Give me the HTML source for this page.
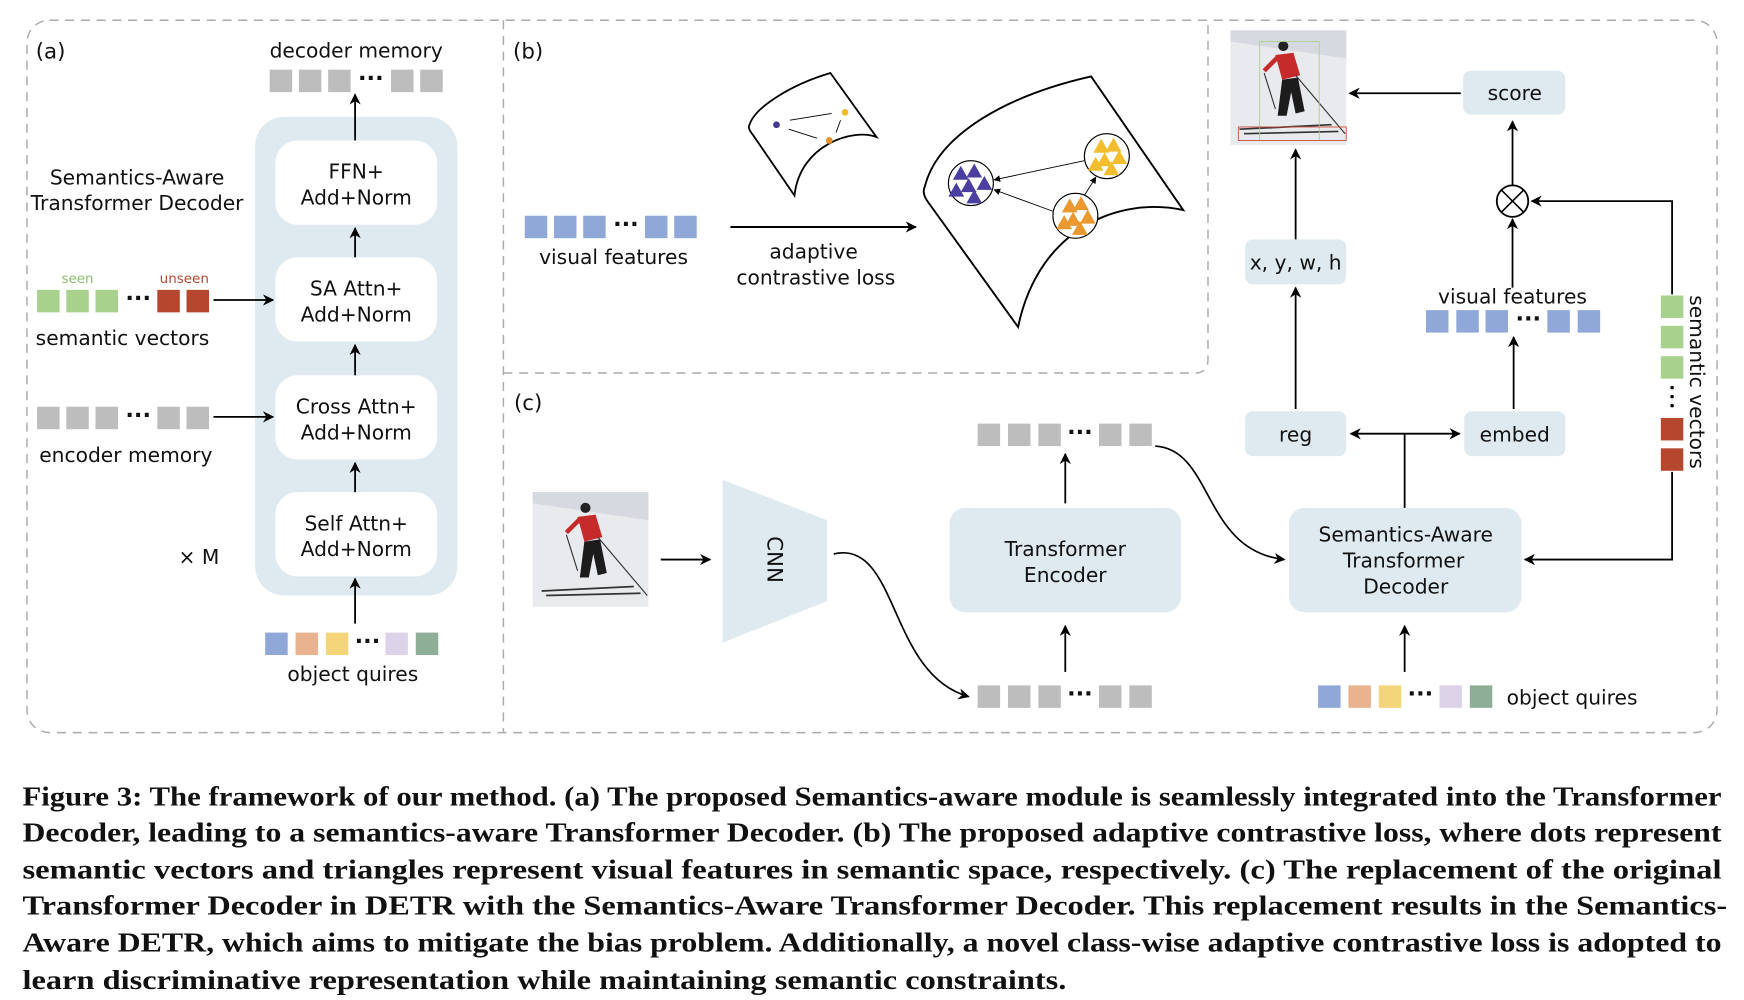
<!DOCTYPE html>
<html><head><meta charset="utf-8"><style>
html,body{margin:0;padding:0;background:#fff;}
svg{display:block;}
.t{font-family:"DejaVu Sans","Liberation Sans",sans-serif;font-size:18px;fill:#111;text-anchor:middle;}
.c{font-family:"Liberation Serif",serif;font-weight:bold;font-size:24.5px;fill:#111;}
</style></head><body>
<svg width="1744" height="1000" viewBox="0 0 1552 890" preserveAspectRatio="none" xmlns="http://www.w3.org/2000/svg">
<defs>
<marker id="a" markerWidth="10" markerHeight="10" refX="9" refY="5" orient="auto" markerUnits="userSpaceOnUse"><path d="M0,0 L10,5 L0,10 L3,5 Z" fill="#000"/></marker>
<marker id="as" markerWidth="10" markerHeight="10" refX="1" refY="5" orient="auto" markerUnits="userSpaceOnUse"><path d="M10,0 L0,5 L10,10 L7,5 Z" fill="#000"/></marker>
<marker id="sm" markerWidth="6" markerHeight="6" refX="5" refY="3" orient="auto" markerUnits="userSpaceOnUse"><path d="M0,0 L6,3 L0,6Z" fill="#000"/></marker>
<g id="tri"><path d="M0,-7.5 L7,5 L-7,5Z"/></g>
<g id="sk">
<rect x="0" y="0" width="103" height="102" fill="#e9eaee"/>
<path d="M0,0 L103,0 L103,25 L0,10Z" fill="#d6d9e0"/>
<circle cx="47" cy="14" r="4.5" fill="#222"/>
<path d="M40,22 L56,20 L62,40 L46,44 Z" fill="#c62a2a"/>
<path d="M42,24 L30,36" stroke="#c62a2a" stroke-width="4"/>
<path d="M46,44 L60,42 L66,72 L58,74 L54,55 L50,76 L42,76 Z" fill="#1c1c1c"/>
<path d="M30,38 L40,70" stroke="#333" stroke-width="1"/>
<path d="M58,40 L102,92" stroke="#333" stroke-width="1"/>
<path d="M8,88 L90,84 M12,92 L96,90" stroke="#333" stroke-width="1.5"/>
</g>
</defs>

<rect x="24" y="18" width="1504" height="634" rx="20" fill="none" stroke="#aaa" stroke-width="1.3" stroke-dasharray="8,6"/>
<line x1="448" y1="18" x2="448" y2="652" stroke="#aaa" stroke-width="1.3" stroke-dasharray="8,6"/>
<path d="M448,332 L1063,332 Q1075,332 1075,320 L1075,18" fill="none" stroke="#aaa" stroke-width="1.3" stroke-dasharray="8,6"/>

<!-- (a) -->
<text x="45" y="52" class="t" style="font-size:19px">(a)</text>
<text x="317" y="51" class="t">decoder memory</text>
<g fill="#bdbdbd"><rect x="240" y="62" width="20" height="20"/><rect x="266" y="62" width="20" height="20"/><rect x="292" y="62" width="20" height="20"/><rect x="348" y="62" width="20" height="20"/><rect x="374" y="62" width="20" height="20"/></g>
<text x="330" y="76" class="t" style="font-size:20px;font-weight:bold">···</text>
<rect x="227" y="104" width="180" height="426" rx="26" fill="#deeaf0"/>
<g fill="#fff"><rect x="245" y="125" width="144" height="75" rx="20"/><rect x="245" y="229" width="144" height="75" rx="20"/><rect x="245" y="334" width="144" height="75" rx="20"/><rect x="245" y="438" width="144" height="75" rx="20"/></g>
<text class="t" x="317" y="159">FFN+</text><text class="t" x="317" y="182">Add+Norm</text>
<text class="t" x="317" y="263">SA Attn+</text><text class="t" x="317" y="286">Add+Norm</text>
<text class="t" x="317" y="368">Cross Attn+</text><text class="t" x="317" y="391">Add+Norm</text>
<text class="t" x="317" y="472">Self Attn+</text><text class="t" x="317" y="495">Add+Norm</text>
<g stroke="#000" stroke-width="1.6" marker-end="url(#a)">
<line x1="316" y1="125" x2="316" y2="84"/><line x1="316" y1="229" x2="316" y2="203"/><line x1="316" y1="334" x2="316" y2="307"/><line x1="316" y1="438" x2="316" y2="412"/><line x1="316" y1="555" x2="316" y2="515"/>
<line x1="190" y1="267" x2="243" y2="267"/><line x1="190" y1="371" x2="243" y2="371"/>
</g>
<text class="t" x="122" y="164">Semantics-Aware</text><text class="t" x="122" y="187">Transformer Decoder</text>
<text x="69" y="252" class="t" style="font-size:12px;fill:#8cc06a">seen</text>
<text x="164" y="252" class="t" style="font-size:12px;fill:#b5472f">unseen</text>
<g fill="#a9d18e"><rect x="33" y="258" width="20" height="20"/><rect x="59" y="258" width="20" height="20"/><rect x="85" y="258" width="20" height="20"/></g>
<g fill="#b5472f"><rect x="140" y="258" width="20" height="20"/><rect x="166" y="258" width="20" height="20"/></g>
<text x="123" y="272" class="t" style="font-size:20px;font-weight:bold">···</text>
<text class="t" x="109" y="307">semantic vectors</text>
<g fill="#bdbdbd"><rect x="33" y="362" width="20" height="20"/><rect x="59" y="362" width="20" height="20"/><rect x="85" y="362" width="20" height="20"/><rect x="140" y="362" width="20" height="20"/><rect x="166" y="362" width="20" height="20"/></g>
<text x="123" y="376" class="t" style="font-size:20px;font-weight:bold">···</text>
<text class="t" x="112" y="411">encoder memory</text>
<text class="t" x="177" y="502">× M</text>
<rect x="236" y="563" width="20" height="20" fill="#8fa8d8"/><rect x="263" y="563" width="20" height="20" fill="#e8b38e"/><rect x="290" y="563" width="20" height="20" fill="#f5d57a"/><rect x="343" y="563" width="20" height="20" fill="#dcd3e8"/><rect x="370" y="563" width="20" height="20" fill="#8fae98"/>
<text x="327" y="577" class="t" style="font-size:20px;font-weight:bold">···</text>
<text class="t" x="314" y="606">object quires</text>

<!-- (b) -->
<text x="470" y="52" class="t" style="font-size:19px">(b)</text>
<g fill="#8fa8d8"><rect x="467" y="192" width="20" height="20"/><rect x="493" y="192" width="20" height="20"/><rect x="519" y="192" width="20" height="20"/><rect x="574" y="192" width="20" height="20"/><rect x="600" y="192" width="20" height="20"/></g>
<text x="557" y="206" class="t" style="font-size:20px;font-weight:bold">···</text>
<text class="t" x="546" y="235">visual features</text>
<line x1="650" y1="202" x2="815" y2="202" stroke="#000" stroke-width="1.8" marker-end="url(#a)"/>
<text class="t" x="724" y="230">adaptive</text><text class="t" x="726" y="253">contrastive loss</text>
<path d="M667,111 C672,95 705,75 739,65 L780,122 C760,114 712,128 707,174 L670,120 Q665,114 667,111Z" fill="none" stroke="#000" stroke-width="1.6"/>
<circle cx="691" cy="111" r="3" fill="#3f3a94"/><circle cx="752" cy="100" r="3" fill="#f0b92a"/><circle cx="738" cy="125" r="3" fill="#e8902a"/>
<g stroke="#000" stroke-width="0.8"><line x1="703" y1="107" x2="740" y2="101"/><line x1="702" y1="115" x2="727" y2="123"/><line x1="748" y1="107" x2="744" y2="118"/></g>
<path d="M823,166 C835,118 900,84 971,68 L1053,187 C1000,175 925,200 906,291 L826,180 Q820,172 823,166Z" fill="none" stroke="#000" stroke-width="1.7"/>
<circle cx="864" cy="163" r="20" fill="#fff" stroke="#000"/>
<circle cx="985" cy="139" r="20" fill="#fff" stroke="#000"/>
<circle cx="957" cy="192" r="20" fill="#fff" stroke="#000"/>
<g fill="#4a3fa0"><use href="#tri" x="855" y="155"/><use href="#tri" x="867" y="153"/><use href="#tri" x="876" y="164"/><use href="#tri" x="862" y="166"/><use href="#tri" x="851" y="170"/><use href="#tri" x="867" y="176"/></g>
<g fill="#f2be2e"><use href="#tri" x="980" y="131"/><use href="#tri" x="991" y="130"/><use href="#tri" x="996" y="141"/><use href="#tri" x="983" y="143"/><use href="#tri" x="975" y="147"/><use href="#tri" x="989" y="151"/></g>
<g fill="#ea9830"><use href="#tri" x="952" y="184"/><use href="#tri" x="962" y="182"/><use href="#tri" x="968" y="194"/><use href="#tri" x="955" y="196"/><use href="#tri" x="947" y="199"/><use href="#tri" x="961" y="204"/></g>
<g stroke="#000" stroke-width="0.8" marker-end="url(#sm)"><line x1="965" y1="143" x2="885" y2="160"/><line x1="937" y1="188" x2="885" y2="169"/><line x1="965" y1="174" x2="975" y2="158"/></g>

<!-- (c) -->
<text x="470" y="365" class="t" style="font-size:19px">(c)</text>
<use href="#sk" x="474" y="438"/>
<line x1="588" y1="498" x2="632" y2="498" stroke="#000" stroke-width="1.6" marker-end="url(#a)"/>
<path d="M643,427 L736,463 L736,535 L643,572Z" fill="#deeaf0"/>
<text class="t" transform="translate(683,498) rotate(90)" style="font-size:19px">CNN</text>
<path d="M742,493 C800,480 790,600 862,620" fill="none" stroke="#000" stroke-width="1.5" marker-end="url(#a)"/>
<g fill="#bdbdbd"><rect x="870" y="610" width="20" height="20"/><rect x="897" y="610" width="20" height="20"/><rect x="924" y="610" width="20" height="20"/><rect x="978" y="610" width="20" height="20"/><rect x="1005" y="610" width="20" height="20"/></g>
<text x="961" y="624" class="t" style="font-size:20px;font-weight:bold">···</text>
<g fill="#bdbdbd"><rect x="870" y="377" width="20" height="20"/><rect x="897" y="377" width="20" height="20"/><rect x="924" y="377" width="20" height="20"/><rect x="978" y="377" width="20" height="20"/><rect x="1005" y="377" width="20" height="20"/></g>
<text x="961" y="391" class="t" style="font-size:20px;font-weight:bold">···</text>
<rect x="845" y="452" width="206" height="93" rx="14" fill="#deeaf0"/>
<text class="t" x="948" y="495">Transformer</text><text class="t" x="948" y="518">Encoder</text>
<g stroke="#000" stroke-width="1.6" marker-end="url(#a)"><line x1="948" y1="598" x2="948" y2="557"/><line x1="948" y1="448" x2="948" y2="404"/><line x1="1250" y1="598" x2="1250" y2="557"/></g>
<path d="M1028,397 C1080,400 1070,490 1143,498" fill="none" stroke="#000" stroke-width="1.5" marker-end="url(#a)"/>
<rect x="1147" y="452" width="207" height="93" rx="14" fill="#deeaf0"/>
<text class="t" x="1251" y="482">Semantics-Aware</text><text class="t" x="1249" y="505">Transformer</text><text class="t" x="1251" y="528">Decoder</text>
<rect x="1173" y="610" width="20" height="20" fill="#8fa8d8"/><rect x="1200" y="610" width="20" height="20" fill="#e8b38e"/><rect x="1227" y="610" width="20" height="20" fill="#f5d57a"/><rect x="1281" y="610" width="20" height="20" fill="#dcd3e8"/><rect x="1308" y="610" width="20" height="20" fill="#8fae98"/>
<text x="1264" y="624" class="t" style="font-size:20px;font-weight:bold">···</text>
<text class="t" x="1399" y="627">object quires</text>
<line x1="1250" y1="452" x2="1250" y2="386" stroke="#000" stroke-width="1.6"/>
<line x1="1202" y1="386" x2="1299" y2="386" stroke="#000" stroke-width="1.6" marker-start="url(#as)" marker-end="url(#a)"/>
<rect x="1108" y="366" width="90" height="40" rx="7" fill="#deeaf0"/><text class="t" x="1153" y="393">reg</text>
<rect x="1303" y="366" width="90" height="40" rx="7" fill="#deeaf0"/><text class="t" x="1348" y="393">embed</text>
<rect x="1108" y="213" width="90" height="40" rx="7" fill="#deeaf0"/><text class="t" x="1153" y="240">x, y, w, h</text>
<rect x="1302" y="63" width="91" height="39" rx="7" fill="#deeaf0"/><text class="t" x="1348" y="89">score</text>
<use href="#sk" x="1095" y="27"/>
<rect x="1121" y="37" width="53" height="88" fill="none" stroke="#a9d18e" stroke-width="0.8"/>
<rect x="1102" y="113" width="96" height="12" fill="none" stroke="#c8503a" stroke-width="0.8"/>
<g stroke="#000" stroke-width="1.6" marker-end="url(#a)">
<line x1="1153" y1="364" x2="1153" y2="256"/><line x1="1153" y1="213" x2="1153" y2="133"/>
<line x1="1300" y1="83" x2="1201" y2="83"/>
<line x1="1346" y1="165" x2="1346" y2="108"/>
<line x1="1347" y1="364" x2="1347" y2="300"/>
<line x1="1346" y1="256" x2="1346" y2="195"/>
</g>
<circle cx="1346" cy="179" r="14" fill="#fff" stroke="#000" stroke-width="1.6"/>
<path d="M1336,169 L1356,189 M1356,169 L1336,189" stroke="#000" stroke-width="1.4"/>
<text class="t" x="1346" y="270">visual features</text>
<g fill="#8fa8d8"><rect x="1269" y="276" width="20" height="20"/><rect x="1296" y="276" width="20" height="20"/><rect x="1322" y="276" width="20" height="20"/><rect x="1377" y="276" width="20" height="20"/><rect x="1404" y="276" width="20" height="20"/></g>
<text x="1360" y="290" class="t" style="font-size:20px;font-weight:bold">···</text>
<g fill="#a9d18e"><rect x="1478" y="263" width="20" height="20"/><rect x="1478" y="290" width="20" height="20"/><rect x="1478" y="317" width="20" height="20"/></g>
<g fill="#b5472f"><rect x="1478" y="372" width="20" height="20"/><rect x="1478" y="399" width="20" height="20"/></g>
<g fill="#000"><circle cx="1488" cy="345" r="1.6"/><circle cx="1488" cy="353" r="1.6"/><circle cx="1488" cy="361" r="1.6"/></g>
<text class="t" transform="translate(1504,340) rotate(90)" style="font-size:18px">semantic vectors</text>
<polyline points="1488,262 1488,179 1363,179" fill="none" stroke="#000" stroke-width="1.6" marker-end="url(#a)"/>
<polyline points="1488,420 1488,498 1357,498" fill="none" stroke="#000" stroke-width="1.6" marker-end="url(#a)"/>

<!-- caption -->
<text class="c" x="20" y="717" textLength="1512" lengthAdjust="spacingAndGlyphs">Figure 3: The framework of our method. (a) The proposed Semantics-aware module is seamlessly integrated into the Transformer</text>
<text class="c" x="20" y="749" textLength="1512" lengthAdjust="spacingAndGlyphs">Decoder, leading to a semantics-aware Transformer Decoder. (b) The proposed adaptive contrastive loss, where dots represent</text>
<text class="c" x="20" y="782" textLength="1512" lengthAdjust="spacingAndGlyphs">semantic vectors and triangles represent visual features in semantic space, respectively. (c) The replacement of the original</text>
<text class="c" x="20" y="814" textLength="1517" lengthAdjust="spacingAndGlyphs">Transformer Decoder in DETR with the Semantics-Aware Transformer Decoder. This replacement results in the Semantics-</text>
<text class="c" x="20" y="847" textLength="1512" lengthAdjust="spacingAndGlyphs">Aware DETR, which aims to mitigate the bias problem. Additionally, a novel class-wise adaptive contrastive loss is adopted to</text>
<text class="c" x="20" y="880" textLength="929" lengthAdjust="spacingAndGlyphs">learn discriminative representation while maintaining semantic constraints.</text>
</svg>
</body></html>
